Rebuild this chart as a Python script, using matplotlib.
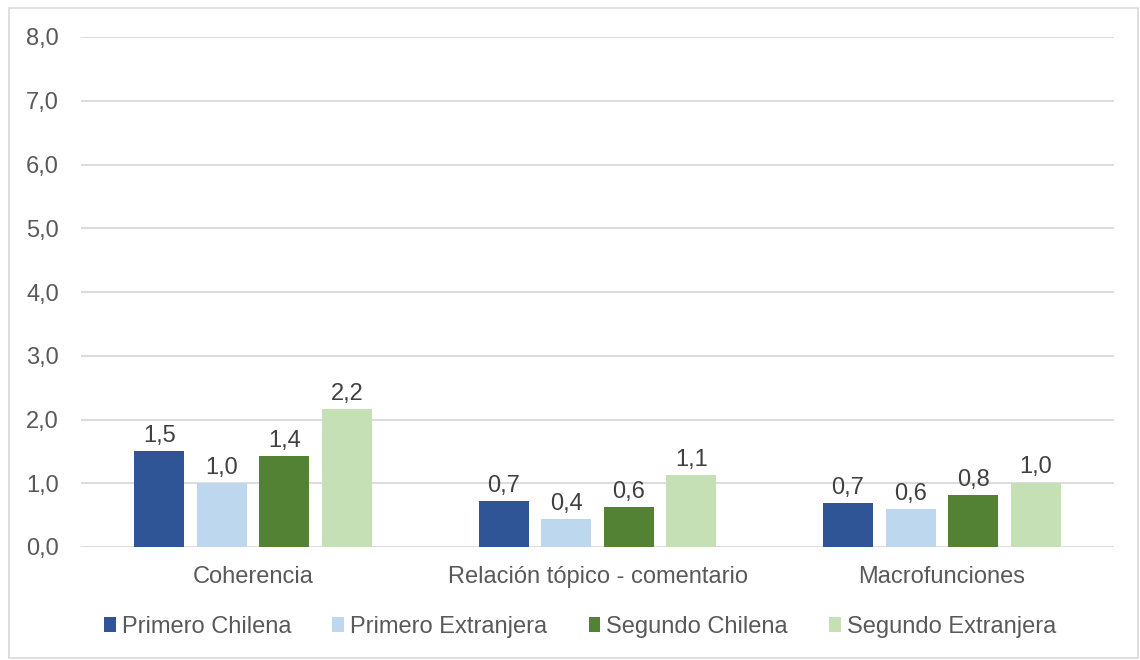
import matplotlib
matplotlib.use("Agg")
import matplotlib.pyplot as plt
from matplotlib.patches import Rectangle
import numpy as np

categories = ["Coherencia", "Relación tópico - comentario", "Macrofunciones"]
series_names = ["Primero Chilena", "Primero Extranjera", "Segundo Chilena", "Segundo Extranjera"]
primero_chilena = [1.50, 0.72, 0.69]
primero_extranjera = [1.00, 0.44, 0.60]
segundo_chilena = [1.42, 0.63, 0.82]
segundo_extranjera = [2.16, 1.13, 1.01]
y_ticks = [0, 1, 2, 3, 4, 5, 6, 7, 8]

series_values = [primero_chilena, primero_extranjera, segundo_chilena, segundo_extranjera]
colors = ["#2F5597", "#BDD7EE", "#548235", "#C5E0B4"]
text_color = "#595959"
grid_color = "#D9D9D9"
fs = 17

plt.rcParams["font.family"] = ["Liberation Sans", "DejaVu Sans"]

fig = plt.figure(figsize=(11.4, 6.6), dpi=100)
ax = fig.add_axes([81 / 1140, 1 - 547 / 660, (1114 - 81) / 1140, (547 - 37) / 660])

# outer chart border
fig.patches.append(Rectangle((9 / 1140, 2 / 660), 1129 / 1140, 650 / 660,
                             transform=fig.transFigure, fill=False,
                             edgecolor=grid_color, linewidth=1.2))

x = np.arange(len(categories))
bar_w = 0.145
step = 0.1816
for i, (name, vals) in enumerate(zip(series_names, series_values)):
    offs = (i - 1.5) * step
    bars = ax.bar(x + offs, vals, width=bar_w, color=colors[i], label=name, zorder=3)
    for b, v in zip(bars, vals):
        ax.annotate(f"{v:.1f}".replace(".", ","),
                    (b.get_x() + b.get_width() / 2, v),
                    xytext=(0, 3), textcoords="offset points",
                    ha="center", va="bottom", fontsize=fs, color="#404040")

ax.set_xlim(-0.5, len(categories) - 0.5)
ax.set_ylim(0, 8)
ax.set_yticks(y_ticks)
ax.set_yticklabels([f"{t:.1f}".replace(".", ",") for t in y_ticks])
ax.set_xticks(x)
ax.set_xticklabels(categories)
ax.tick_params(axis="both", length=0, labelsize=fs, labelcolor=text_color)
ax.tick_params(axis="y", pad=16)
ax.tick_params(axis="x", pad=14)
ax.grid(axis="y", color=grid_color, linewidth=1.3, zorder=0)
for s in ax.spines.values():
    s.set_visible(False)

leg = fig.legend(loc="center", bbox_to_anchor=(580 / 1140, 1 - 627 / 660), ncol=4,
                 frameon=False, fontsize=fs, handlelength=0.5, handleheight=0.6,
                 handletextpad=0.25, columnspacing=1.75, labelcolor=text_color)

fig.savefig("out.png", dpi=100)
